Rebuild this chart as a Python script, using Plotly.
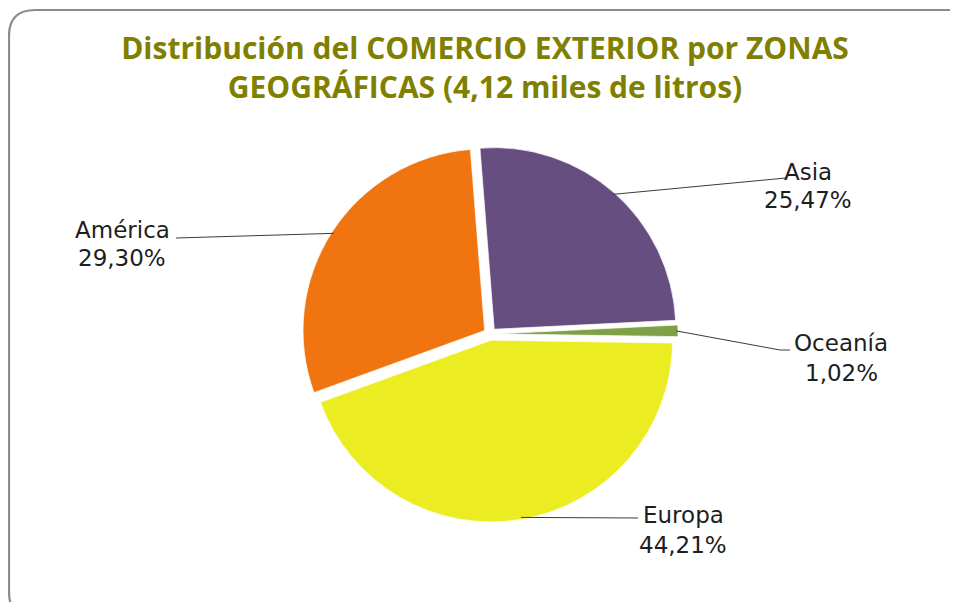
import math
import plotly.graph_objects as go

# ---- data ----
zonas = ["Asia", "Oceanía", "Europa", "América"]
porcentajes = [25.47, 1.02, 44.21, 29.30]
etiquetas_pct = ["25,47%", "1,02%", "44,21%", "29,30%"]
colores = ["#664E80", "#7FA047", "#ECEC22", "#F07511"]
titulo = "Distribución del COMERCIO EXTERIOR por ZONAS<br>GEOGRÁFICAS (4,12 miles de litros)"

# ---- layout constants (pixels, in screenshot space) ----
W, H = 958, 602
OFF = 8                             # browser body margin
CX, CY, R = 490, 334, 188          # pie centre / outer radius
ROT = -4.5                          # degrees, clockwise from 12 o'clock
PULL = 0.035

def px(x):
    return (x - OFF) / W

def py(y):
    return 1 - (y - OFF) / H

# label text centres and leader-line end points (pixels)
label_pos = {
    "Asia": (808, 172, 200),
    "Oceanía": (841, 343, 373),
    "Europa": (683, 515, 545),
    "América": (122, 230, 258),
}
line_end = {
    "Asia": [(786, 178)],
    "Oceanía": [(780, 350), (790, 350)],
    "Europa": [(638, 518)],
    "América": [(176, 238)],
}

fig = go.Figure()
fig.add_trace(go.Pie(
    labels=zonas,
    values=porcentajes,
    sort=False,
    direction="clockwise",
    rotation=ROT,
    pull=PULL,
    textinfo="none",
    hoverinfo="label+percent",
    marker=dict(colors=colores, line=dict(color="rgba(255,255,255,0.7)", width=1)),
    domain=dict(x=[px(CX - R), px(CX + R)], y=[py(CY + R), py(CY - R)]),
    showlegend=False,
))

shapes = []
annotations = []
total = sum(porcentajes)
acc = 0.0
for z, v, t in zip(zonas, porcentajes, etiquetas_pct):
    mid = math.radians(ROT + 360 * (acc + v / 2) / total)
    acc += v
    sx = CX + (R - 2) * math.sin(mid)
    sy = CY - (R - 2) * math.cos(mid)
    pts = [(sx, sy)] + line_end[z]
    path = "M " + " L ".join(f"{px(a):.5f},{py(b):.5f}" for a, b in pts)
    shapes.append(dict(type="path", xref="paper", yref="paper", path=path,
                       line=dict(color="#3a3a3a", width=1)))
    lx, ly1, ly2 = label_pos[z]
    for txt, yy in ((z, ly1), (t, ly2)):
        annotations.append(dict(text=txt, x=px(lx), y=py(yy), xref="paper", yref="paper",
                                xanchor="center", yanchor="middle", showarrow=False,
                                font=dict(family="DejaVu Sans", size=23, color="#1e1e1e")))

# rounded outer frame
x0, y0, x1, y1, rr = 9, 10, 976, 618, 26
frame = (f"M {px(x0+rr)},{py(y0)} L {px(x1-rr)},{py(y0)} Q {px(x1)},{py(y0)} {px(x1)},{py(y0+rr)} "
         f"L {px(x1)},{py(y1-rr)} Q {px(x1)},{py(y1)} {px(x1-rr)},{py(y1)} "
         f"L {px(x0+rr)},{py(y1)} Q {px(x0)},{py(y1)} {px(x0)},{py(y1-rr)} "
         f"L {px(x0)},{py(y0+rr)} Q {px(x0)},{py(y0)} {px(x0+rr)},{py(y0)} Z")
shapes.append(dict(type="path", xref="paper", yref="paper", path=frame,
                   line=dict(color="#8c8c8c", width=2.2), layer="below"))

fig.update_layout(
    width=W, height=H,
    margin=dict(l=0, r=0, t=0, b=0),
    paper_bgcolor="white",
    title=dict(text=titulo, x=px(485), y=py(59), xanchor="center", yanchor="middle",
               font=dict(family="Open Sans", size=30, color="#7F7F00", weight="bold")),
    shapes=shapes,
    annotations=annotations,
)

fig.write_html("out.html")
